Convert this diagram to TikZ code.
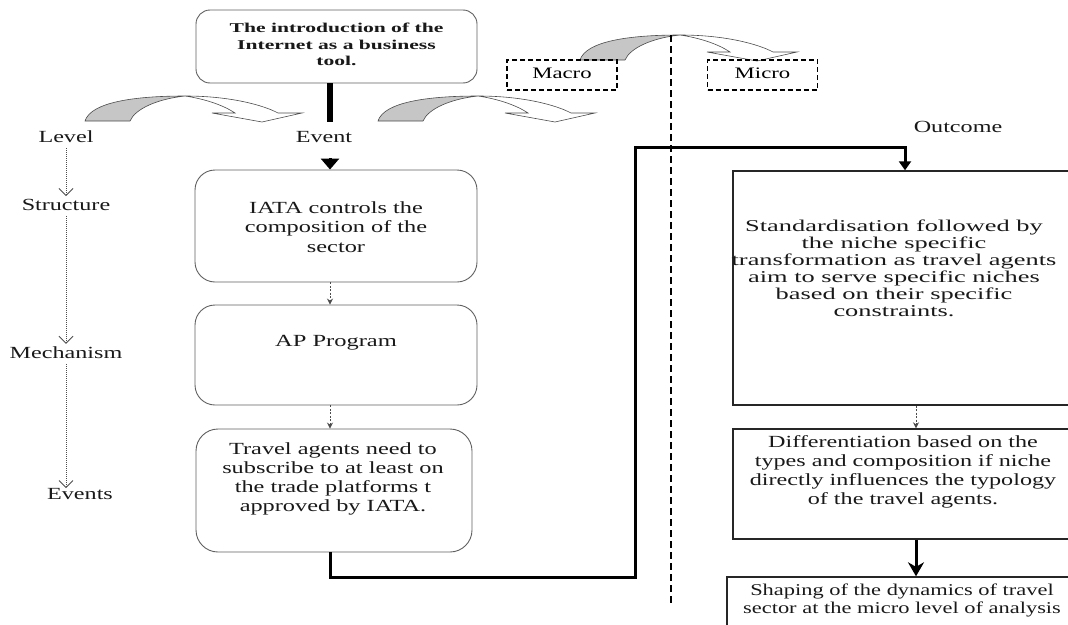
\documentclass[tikz,border=0pt]{standalone}
\usepackage{fontspec}
\setmainfont{Liberation Serif}
\usepackage{graphicx}
\usetikzlibrary{arrows.meta,calc}
\newcommand\ml[5]{\scalebox{#1}[1]{\fontsize{#2}{#3}\selectfont#4\begin{tabular}{@{}c@{}}#5\end{tabular}}}
\newcommand\lb[1]{\scalebox{1.42}[1]{\fontsize{17}{20}\selectfont #1}}
\begin{document}
\begin{tikzpicture}[x=1pt,y=-1pt,
  rbox/.style={draw=gray!75!black, line width=0.9pt, rounded corners=18pt, fill=white, inner sep=0},
  sbox/.style={draw=black!85, line width=1.4pt, inner sep=0, minimum width=344pt},
  dbox/.style={draw=black, line width=1.1pt, dash pattern=on 5pt off 3pt, inner sep=0, minimum width=110pt, minimum height=30pt},
  txt/.style={inner sep=0, text=black!90},
  dotarr/.style={draw=gray!60!black, line width=0.9pt, dash pattern=on 1pt off 1pt, shorten <=5pt, shorten >=3pt, -{Straight Barb[length=7pt,width=14pt,line width=0.9pt]}},
  dasharr/.style={draw=black!70, line width=0.9pt, dash pattern=on 2pt off 1.5pt, -{Stealth[length=6pt,width=6pt]}},
  thk/.style={line width=3pt, draw=black},
  curvarr/.pic={
    \filldraw[fill=gray!45, draw=gray!60!black, line width=0.6pt] (0,0) .. controls (6,-19) and (50,-25) .. (100,-25) .. controls (72,-22) and (50,-12) .. (45,0) -- cycle;
    \filldraw[fill=white, draw=gray!60!black, line width=0.6pt] (100,-25) .. controls (145,-25) and (178,-16) .. (193,-8) -- (217,-8) -- (177,1) -- (127,-8) -- (150,-8) .. controls (138,-16) and (120,-22) .. (100,-25) -- cycle;
  }
]
\useasboundingbox (0,0) rectangle (1068,624);
\clip (0,0) rectangle (1068,624);

% column coordinates
\coordinate (cx) at (330,0);
\coordinate (rx) at (916,0);

% curved arrows
\pic at (85,121) {curvarr};
\pic at (378,121) {curvarr};
\pic at (580,60) {curvarr};

% top box
\node[rbox, rounded corners=14pt, minimum width=281pt, minimum height=73pt] (top) at (336.5,46.5) {};
\node[txt] (toptx) at (336.5,46) {\ml{1.6}{13.5}{16.5}{\bfseries}{The introduction of the\\ Internet as a business\\ tool.}};

% macro / micro
\node[dbox] (mac) at (562,75) {\ml{1.42}{16}{19}{}{Macro}};
\node[dbox] (mic) at (762.5,75) {\ml{1.42}{16}{19}{}{Micro}};

% left level labels
\node[txt] (lv) at (66,137) {\lb{Level}};
\node[txt] (st) at (66,205) {\lb{Structure}};
\node[txt] (me) at (66,353) {\lb{Mechanism}};
\node[txt] (evs) at (80,494) {\lb{Events}};
\draw[dotarr] (lv.south) -- (st.north);
\draw[dotarr] (st.south) -- (me.north);
\draw[dotarr, shorten >=0pt] (me.south) -- (me.south |- evs.north);

% column headers
\node[txt] (ev) at (324,137) {\lb{Event}};
\node[txt] (out) at (958,127) {\lb{Outcome}};

% middle boxes
\node[rbox, rounded corners=20pt, minimum width=282pt, minimum height=112pt] (iata) at (336,226) {};
\node[txt] (iatatx) at (336,229) {\ml{1.43}{17}{19.5}{}{IATA controls the\\ composition of the\\ sector}};
\node[rbox, rounded corners=20pt, minimum width=282pt, minimum height=100pt] (ap) at (336,355) {};
\node[txt] (aptx) at (336,343) {\ml{1.44}{17}{19.5}{}{AP Program}};
\node[rbox, rounded corners=22pt, minimum width=276pt, minimum height=123pt] (trav) at (334,490.5) {};
\node[txt] (travtx) at (333,479) {\ml{1.43}{17}{19}{}{Travel agents need to\\ subscribe to at least on\\ the trade platforms t\\ approved by IATA.}};

% right boxes
\node[sbox, minimum height=234pt] (stand) at (905,288) {};
\node[txt] (standtx) at (894,270.5) {\ml{1.6}{16.5}{17}{}{Standardisation followed by\\ the niche specific\\ transformation as travel agents\\ aim to serve specific niches\\ based on their specific\\ constraints.}};
\node[sbox, minimum height=110pt] (diff) at (905,484) {};
\node[txt] (difftx) at (903,472) {\ml{1.42}{17}{19}{}{Differentiation based on the\\ types and composition if niche\\ directly influences the typology\\ of the travel agents.}};
\node[sbox, minimum width=356pt, minimum height=64pt] (shp) at (905,609) {};
\node[txt] (shptx) at (902,601) {\ml{1.36}{16.5}{18}{}{Shaping of the dynamics of travel\\ sector at the micro level of analysis}};

% event column connectors
\coordinate (evtop) at (330,122);
\coordinate (evbot) at (330,158);
\draw[line width=5.5pt] (top.south -| cx) -- (evtop);
\draw[line width=3pt, -{Triangle[length=11pt,width=18pt]}] (evbot) -- (iata.north -| cx);
\draw[dasharr] (iata.south -| cx) -- (ap.north -| cx);
\draw[dasharr] (ap.south -| cx) -- (trav.north -| cx);

% long connector
\coordinate (c1) at (635,577);
\coordinate (c2) at (635,147);
\draw[thk, -{Triangle[length=9pt,width=12pt]}] (trav.south -| cx) |- (c1) -- (c2) -| (stand.north);

% right column connectors
\draw[dasharr] (stand.south -| rx) -- (diff.north -| rx);
\draw[thk, -{Stealth[length=14pt,width=16pt]}] (diff.south -| rx) -- (shp.north -| rx);

% macro/micro divider
\coordinate (vt) at (671,35);
\coordinate (vb) at (671,604);
\draw[line width=1.2pt, dash pattern=on 7pt off 4pt] (vt) -- (vb);
\end{tikzpicture}
\end{document}
